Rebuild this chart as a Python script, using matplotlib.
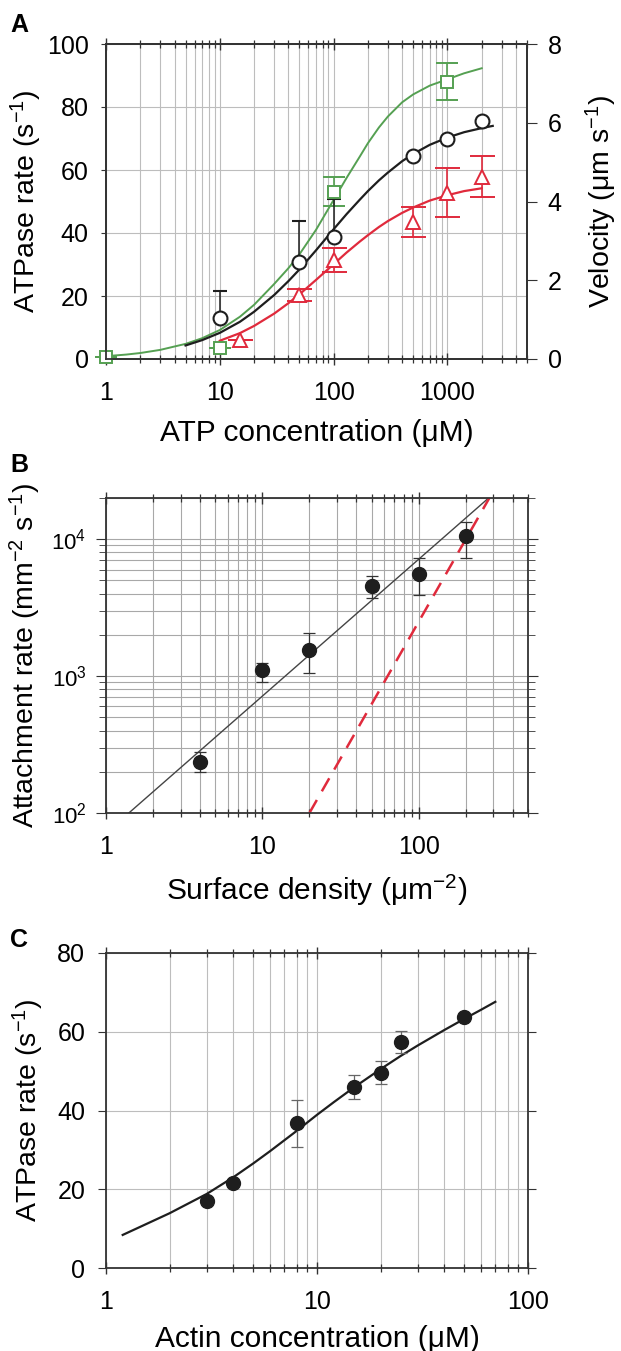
import matplotlib
matplotlib.use('Agg')
import matplotlib.pyplot as plt
from matplotlib.ticker import LogLocator, NullFormatter, FuncFormatter

plt.rcParams['font.family'] = ['Liberation Sans', 'DejaVu Sans']
plt.rcParams['mathtext.fontset'] = 'custom'
plt.rcParams['mathtext.rm'] = 'Liberation Sans'
plt.rcParams['mathtext.it'] = 'Liberation Sans'

# ---------------- panel A : ATP dependence ----------------
a_circ_x = [10, 50, 100, 500, 1000, 2000]
a_circ_y = [12.9, 30.9, 38.8, 64.4, 69.7, 75.7]
a_circ_err = [8.7, 13.0, 12.0, 0, 0, 0]

a_tri_x = [15, 50, 100, 500, 1000, 2000]
a_tri_y = [5.9, 20.3, 31.4, 43.6, 52.8, 57.9]
a_tri_err = [0, 1.9, 3.7, 4.8, 7.7, 6.6]

a_sq_x = [1, 10, 100, 1000]
a_sq_y = [0.7, 3.4, 53.1, 88.0]
a_sq_err = [0, 0, 4.6, 5.9]

# fitted curves
a_black_fit_x = [5, 7, 10, 15, 20, 30, 40, 50, 70, 100, 130, 170, 200, 250, 300, 400, 500, 700, 1000, 1400, 2000, 2500]
a_black_fit_y = [4.3, 6.0, 8.3, 11.8, 15.0, 20.3, 24.7, 28.4, 34.5, 41.2, 46.0, 50.6, 53.3, 56.7, 59.2, 62.8, 65.1, 68.0, 70.3, 72.0, 73.3, 74.0]
a_green_fit_x = [1, 1.5, 2, 3, 5, 7, 10, 15, 20, 30, 40, 50, 70, 100, 130, 170, 200, 250, 300, 400, 500, 700, 1000, 1400, 2000]
a_green_fit_y = [0.9, 1.4, 1.9, 2.9, 4.8, 6.6, 9.2, 13.4, 17.2, 23.8, 28.8, 33.2, 41.0, 50.5, 57.5, 64.3, 68.5, 73.5, 77.0, 81.5, 84.0, 86.8, 88.8, 90.7, 92.3]
a_red_fit_x = [10, 15, 20, 30, 40, 50, 70, 100, 130, 170, 200, 250, 300, 400, 500, 700, 1000, 1400, 2000]
a_red_fit_y = [5.8, 8.2, 10.5, 14.4, 17.7, 20.5, 25.1, 30.1, 33.8, 37.3, 39.3, 41.9, 43.8, 46.4, 48.1, 50.3, 52.0, 53.3, 54.2]

# ---------------- panel B : attachment rate ----------------
b_x = [4, 10, 20, 50, 100, 200]
b_y = [236, 1100, 1550, 4540, 5560, 10500]
b_err_lo = [36, 200, 500, 840, 1660, 3230]
b_err_hi = [44, 150, 500, 830, 1710, 2800]
b_lin_x = [1.4, 280]
b_lin_y = [100, 2e4]
b_sq_x = [20, 283]
b_sq_y = [100, 2e4]

# ---------------- panel C : actin dependence ----------------
c_x = [3, 4, 8, 15, 20, 25, 50]
c_y = [17.1, 21.5, 36.7, 46.0, 49.6, 57.4, 63.8]
c_err = [0, 0, 6.0, 3.0, 2.9, 2.8, 0]
c_fit_x = [1.2, 1.5, 2, 2.5, 3, 4, 5, 6, 8, 10, 12, 15, 20, 25, 30, 40, 50, 60, 70]
c_fit_y = [8.4, 10.8, 13.9, 16.6, 18.8, 23.0, 26.6, 29.7, 34.8, 38.9, 42.1, 45.9, 50.5, 53.9, 56.5, 60.4, 63.3, 65.6, 67.6]

green = '#55a052'
red = '#e02a3c'
dark = '#1e1e1e'
gridc = '#bdbdbd'
spc = '#333333'
f_tick = 18
f_xlab = 21.5
f_ylab = 20.5

fig = plt.figure(figsize=(6.21, 13.51), dpi=100)

def style(ax):
    for s in ax.spines.values():
        s.set_linewidth(1.3)
        s.set_color(spc)
    ax.tick_params(axis='x', which='both', direction='inout', top=True, bottom=True,
                   labelsize=f_tick, pad=12, color=spc)
    ax.tick_params(axis='x', which='major', length=8, width=1.0)
    ax.tick_params(axis='x', which='minor', length=6, width=0.9)
    ax.tick_params(axis='y', which='both', direction='out', labelsize=f_tick, pad=9, color=spc)

def log_x(ax):
    ax.set_xscale('log')
    ax.xaxis.set_major_locator(LogLocator(base=10))
    ax.xaxis.set_minor_locator(LogLocator(base=10, subs=range(2, 10)))
    ax.xaxis.set_minor_formatter(NullFormatter())
    ax.xaxis.set_major_formatter(FuncFormatter(lambda v, p: '%g' % v))

# ---- A ----
axA = fig.add_axes([106/621, 1 - 359/1351, 421/621, 315/1351])
log_x(axA)
axA.set_xlim(1, 5000)
axA.set_ylim(0, 100)
axA.set_yticks([0, 20, 40, 60, 80, 100])
axA.grid(True, which='both', axis='x', color=gridc, lw=0.8)
axA.grid(True, which='major', axis='y', color=gridc, lw=0.8)
axA.set_axisbelow(True)
style(axA)

axA.plot(a_green_fit_x, a_green_fit_y, color=green, lw=1.4)
axA.plot(a_black_fit_x, a_black_fit_y, color=dark, lw=1.6)
axA.plot(a_red_fit_x, a_red_fit_y, color=red, lw=1.6)
axA.errorbar(a_sq_x, a_sq_y, yerr=a_sq_err, fmt='s', ms=9, mfc='white', mec=green, mew=1.4,
             ecolor=green, elinewidth=1.2, capsize=8, capthick=1.2, clip_on=False, zorder=4)
axA.errorbar(a_tri_x, a_tri_y, yerr=a_tri_err, fmt='^', ms=10, mfc='white', mec=red, mew=1.4,
             ecolor=red, elinewidth=1.2, capsize=9, capthick=1.2, zorder=4)
axA.errorbar(a_circ_x, a_circ_y, yerr=[[0]*len(a_circ_err), a_circ_err], fmt='o', ms=10,
             mfc='white', mec=dark, mew=1.5, ecolor=dark, elinewidth=1.1, capsize=5,
             capthick=1.1, zorder=4)
axA.set_ylabel('ATPase rate (s$^{-1}$)', fontsize=f_ylab, labelpad=2)
axA.set_xlabel('ATP concentration (\u03bcM)', fontsize=f_xlab, labelpad=10)

axA2 = axA.twinx()
axA2.set_ylim(0, 8)
axA2.set_yticks([0, 2, 4, 6, 8])
axA2.tick_params(axis='y', direction='out', length=7, labelsize=f_tick, pad=8, color=spc)
for s in axA2.spines.values():
    s.set_linewidth(1.3)
    s.set_color(spc)
axA2.set_ylabel('Velocity (\u03bcm s$^{-1}$)', fontsize=f_ylab, labelpad=16)

# ---- B ----
axB = fig.add_axes([106/621, 1 - 813/1351, 422/621, 315/1351])
log_x(axB)
axB.set_yscale('log')
axB.set_xlim(1, 500)
axB.set_ylim(100, 2e4)
axB.yaxis.set_minor_locator(LogLocator(base=10, subs=range(2, 10)))
axB.yaxis.set_minor_formatter(NullFormatter())
axB.grid(True, which='both', color='#a8a8a8', lw=0.8)
axB.set_axisbelow(True)
style(axB)
axB.tick_params(axis='y', which='both', right=True, left=True, labelsize=16, pad=7)
axB.tick_params(axis='y', which='major', length=7)
axB.tick_params(axis='y', which='minor', length=5)

axB.plot(b_lin_x, b_lin_y, color='#444444', lw=1.0)
axB.plot(b_sq_x, b_sq_y, color=red, lw=1.8, ls=(0, (6, 4)))
axB.errorbar(b_x, b_y, yerr=[b_err_lo, b_err_hi], fmt='o', ms=10, mfc=dark, mec=dark,
             ecolor='#333333', elinewidth=0.9, capsize=4, capthick=0.9)
axB.set_ylabel('Attachment rate (mm$^{-2}$ s$^{-1}$)', fontsize=f_ylab, labelpad=6)
axB.set_xlabel('Surface density (\u03bcm$^{-2}$)', fontsize=f_xlab, labelpad=10)

# ---- C ----
axC = fig.add_axes([106/621, 1 - 1268/1351, 422/621, 315/1351])
log_x(axC)
axC.set_xlim(1, 100)
axC.set_ylim(0, 80)
axC.set_yticks([0, 20, 40, 60, 80])
axC.grid(True, which='both', axis='x', color=gridc, lw=0.8)
axC.grid(True, which='major', axis='y', color=gridc, lw=0.8)
axC.set_axisbelow(True)
style(axC)
axC.tick_params(axis='y', which='both', right=True, left=True, length=6)

axC.plot(c_fit_x, c_fit_y, color=dark, lw=1.6)
axC.errorbar(c_x, c_y, yerr=c_err, fmt='o', ms=10, mfc=dark, mec=dark,
             ecolor='#666666', elinewidth=0.9, capsize=4, capthick=0.9)
axC.set_ylabel('ATPase rate (s$^{-1}$)', fontsize=f_ylab, labelpad=8)
axC.set_xlabel('Actin concentration (\u03bcM)', fontsize=f_xlab, labelpad=8)

# panel letters
fig.text(10/621, 1 - 25/1351, 'A', fontsize=18, fontweight='bold', va='center')
fig.text(10/621, 1 - 465/1351, 'B', fontsize=18, fontweight='bold', va='center')
fig.text(10/621, 1 - 940/1351, 'C', fontsize=18, fontweight='bold', va='center')

fig.savefig('out.png', dpi=100)
